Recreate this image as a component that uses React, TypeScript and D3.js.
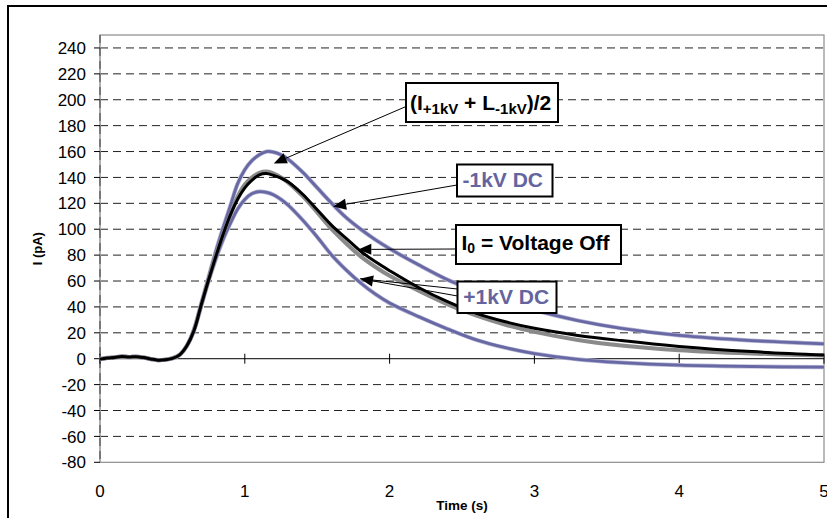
import React from "react";
import * as d3 from "d3";

// Sample times (s)
const TIME = [
  0, 0.05, 0.1, 0.15, 0.2, 0.25, 0.3, 0.35, 0.4, 0.45, 0.5,
  0.55, 0.6, 0.65, 0.7, 0.75, 0.8, 0.85, 0.9, 0.95, 1.0,
  1.05, 1.1, 1.15, 1.2, 1.25, 1.3, 1.4, 1.5, 1.6, 1.7, 1.8, 1.9, 2.0,
  2.2, 2.4, 2.6, 2.8, 3.0, 3.3, 3.6, 4.0, 4.5, 5.0,
];

// Current (pA) for each condition
const MINUS_1KV = [
  -0.3, 0.6, 1.0, 1.8, 1.3, 1.6, 0.9, -0.2, -1.1, -0.8, 0.3,
  3, 10, 23, 43, 63, 83, 101, 118, 135, 146,
  153, 157.5, 160, 159.5, 157.5, 154, 144, 132, 120, 109, 100, 92, 85,
  72.5, 61, 52, 44, 37.5, 29.5, 23.5, 18, 14, 11.5,
];
const PLUS_1KV = [
  -0.3, 0.6, 1.0, 1.8, 1.3, 1.6, 0.9, -0.2, -1.1, -0.8, 0.3,
  3, 10, 22, 41, 60, 77, 92, 104.5, 115.5, 123,
  127.5, 129, 128.5, 126.5, 123, 118.5, 107, 94, 80, 68.5, 58.5, 50, 43,
  32.5, 23, 14.5, 8.5, 4, -0.5, -3, -5, -6, -6.5,
];
const VOLTAGE_OFF = [
  -0.3, 0.6, 1.0, 1.8, 1.3, 1.6, 0.9, -0.2, -1.1, -0.8, 0.3,
  3, 10, 22, 42, 61, 79, 96, 111, 123, 132,
  138, 142, 143, 141.5, 139.5, 136.5, 127, 115, 103, 93, 83, 75, 68,
  55, 44, 35, 28.5, 23.5, 18, 14, 9.5, 5.5, 2.8,
];
const AVERAGE = [
  -0.3, 0.6, 1.0, 1.8, 1.3, 1.6, 0.9, -0.2, -1.1, -0.8, 0.3,
  3, 10, 22.5, 42, 61.5, 80, 96.5, 111, 125, 134.5,
  140, 143.5, 144.5, 143, 140, 136, 125.5, 113, 100, 89, 79, 71, 64,
  52.5, 42, 33.2, 26.2, 20.7, 14.5, 10.2, 6.5, 4, 2.5,
];

const X_TICKS = [0, 1, 2, 3, 4, 5];
const Y_TICKS = [-80, -60, -40, -20, 0, 20, 40, 60, 80, 100, 120, 140, 160, 180, 200, 220, 240];

// Arrow targets in data units (time, current)
const ARROW_TIPS = {
  average: [1.2, 150.8],
  minus: [1.61, 117.6],
  off: [1.784, 84.4],
  plus: [1.796, 61.8],
};

const FONT = "Arial, 'Liberation Sans', Helvetica, sans-serif";
const BLUE = "#6868a4";
const BLUE_TEXT = "#64649e";

const W = 827;
const H = 518;
const plot = { left: 100, right: 824, top: 35, bottom: 462.3 };

export default function App() {
  const x = d3.scaleLinear().domain([0, 5]).range([plot.left, plot.right]);
  const y = d3.scaleLinear().domain([-80, 250]).range([plot.bottom, plot.top]);

  const lineOf = (vals: number[]) =>
    d3
      .line<number>()
      .x((_, i) => x(TIME[i]))
      .y((v) => y(v))
      .curve(d3.curveCatmullRom.alpha(0.5))(vals) as string;

  const arrow = (fx: number, fy: number, tip: number[], key: string) => {
    const tx = x(tip[0]);
    const ty = y(tip[1]);
    const ang = Math.atan2(ty - fy, tx - fx);
    const len = 13;
    const hw = 5.5;
    const bx = tx - len * Math.cos(ang);
    const by = ty - len * Math.sin(ang);
    const px = -Math.sin(ang) * hw;
    const py = Math.cos(ang) * hw;
    return (
      <g key={key}>
        <line x1={fx} y1={fy} x2={bx} y2={by} stroke="#000" strokeWidth={1} />
        <polygon
          points={`${tx},${ty} ${bx + px},${by + py} ${bx - px},${by - py}`}
          fill="#000"
        />
      </g>
    );
  };

  const y0 = y(0);

  return (
    <svg
      width={W}
      height={H}
      style={{ position: "absolute", left: 0, top: 0, background: "#fff" }}
      fontFamily={FONT}
    >
      <rect x={0} y={0} width={W} height={H} fill="#fff" />
      {/* outer chart frame */}
      <rect x={8} y={6} width={900} height={600} fill="none" stroke="#000" strokeWidth={2} />

      {/* plot area border */}
      <rect
        x={plot.left}
        y={plot.top}
        width={plot.right - plot.left}
        height={plot.bottom - plot.top}
        fill="none"
        stroke="#8c8c8c"
        strokeWidth={1.2}
      />

      {/* horizontal gridlines */}
      {Y_TICKS.filter((t) => t !== 0 && t !== -80).map((t) => (
        <line
          key={`g${t}`}
          x1={plot.left}
          x2={plot.right}
          y1={y(t)}
          y2={y(t)}
          stroke="#222"
          strokeWidth={1}
          strokeDasharray="8,5"
        />
      ))}

      {/* y axis */}
      <line x1={plot.left} x2={plot.left} y1={plot.top} y2={plot.bottom} stroke="#aaa" strokeWidth={1.5} />
      <line
        x1={plot.left}
        x2={plot.left}
        y1={plot.top}
        y2={plot.bottom}
        stroke="#555"
        strokeWidth={1.2}
        strokeDasharray="8,5"
      />
      {Y_TICKS.map((t) => (
        <g key={`yt${t}`}>
          <line x1={plot.left - 6} x2={plot.left} y1={y(t)} y2={y(t)} stroke="#000" strokeWidth={1} />
          <text
            x={86}
            y={y(t)}
            dy="0.36em"
            textAnchor="end"
            fontSize={17}
            fill="#000"
          >
            {t}
          </text>
        </g>
      ))}
      <text
        transform={`translate(42,${(plot.top + plot.bottom) / 2}) rotate(-90)`}
        textAnchor="middle"
        fontSize={13}
        fontWeight="bold"
        fill="#000"
      >
        I (pA)
      </text>

      {/* x axis at zero */}
      <line x1={plot.left} x2={plot.right} y1={y0} y2={y0} stroke="#000" strokeWidth={1} />
      {X_TICKS.map((t) => (
        <g key={`xt${t}`}>
          <line x1={x(t)} x2={x(t)} y1={y0 - 5} y2={y0 + 5} stroke="#000" strokeWidth={1} />
          <text x={x(t)} y={497} textAnchor="middle" fontSize={17} fill="#000">
            {t}
          </text>
        </g>
      ))}
      <text x={(plot.left + plot.right) / 2} y={510} textAnchor="middle" fontSize={13.5} fontWeight="bold" fill="#000">
        Time (s)
      </text>

      {/* series */}
      <path d={lineOf(MINUS_1KV)} fill="none" stroke="#b4b4d4" strokeWidth={4.2} />
      <path d={lineOf(MINUS_1KV)} fill="none" stroke={BLUE} strokeWidth={2.8} />
      <path d={lineOf(PLUS_1KV)} fill="none" stroke="#b4b4d4" strokeWidth={4.2} />
      <path d={lineOf(PLUS_1KV)} fill="none" stroke={BLUE} strokeWidth={2.8} />
      <path d={lineOf(AVERAGE)} fill="none" stroke="#8a8a8a" strokeWidth={4} />
      <path d={lineOf(VOLTAGE_OFF)} fill="none" stroke="#000" strokeWidth={3} />

      {/* annotations */}
      {arrow(406, 106.5, ARROW_TIPS.average, "a1")}
      <rect x={406} y={83} width={152} height={39} fill="#fff" stroke="#000" strokeWidth={2} />
      <text x={410} y={110} fontSize={21} fontWeight="bold" fill="#000">
        (I
        <tspan fontSize={15} dy={4}>+1kV</tspan>
        <tspan dy={-4}> + L</tspan>
        <tspan fontSize={15} dy={4}>-1kV</tspan>
        <tspan dy={-4}>)/2</tspan>
      </text>

      {arrow(457, 185, ARROW_TIPS.minus, "a2")}
      <rect x={457} y={164.5} width={95.5} height={32} fill="#fff" stroke="#000" strokeWidth={2} />
      <text x={462.5} y={187} fontSize={21} fontWeight="bold" fill={BLUE_TEXT}>
        -1kV DC
      </text>

      {arrow(456, 249, ARROW_TIPS.off, "a3")}
      <rect x={456} y={225} width={165} height={39} fill="#fff" stroke="#000" strokeWidth={2} />
      <text x={461.5} y={249.5} fontSize={21} fontWeight="bold" fill="#000">
        I
        <tspan fontSize={14} dy={3}>0</tspan>
        <tspan dy={-3}> = Voltage Off</tspan>
      </text>

      {arrow(457.5, 296, ARROW_TIPS.plus, "a4")}
      <line x1={x(ARROW_TIPS.plus[0])} y1={y(ARROW_TIPS.plus[1])} x2={457.5} y2={289} stroke="#000" strokeWidth={1} />
      <rect x={457.5} y={281.5} width={99} height={31.5} fill="#fff" stroke="#000" strokeWidth={2} />
      <text x={463.3} y={303.5} fontSize={21} fontWeight="bold" fill={BLUE_TEXT}>
        +1kV DC
      </text>
    </svg>
  );
}
